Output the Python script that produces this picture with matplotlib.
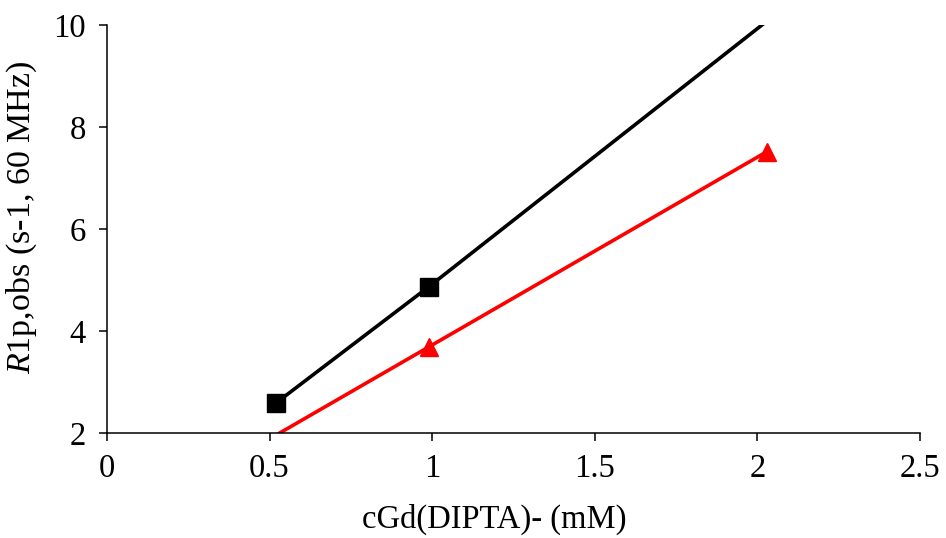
import numpy as np
import matplotlib
matplotlib.use("Agg")
import matplotlib.pyplot as plt

# font setup (Times-like)
plt.rcParams['font.family'] = ['Liberation Serif', 'DejaVu Serif']
plt.rcParams['mathtext.fontset'] = 'custom'
plt.rcParams['mathtext.rm'] = 'Liberation Serif'
plt.rcParams['mathtext.it'] = 'Liberation Serif:italic'

# data
conc = [0.52, 0.99, 2.03]
r1_black = [2.59, 4.87, 10.08]
r1_red = [1.96, 3.69, 7.52]

xticks = [0, 0.5, 1, 1.5, 2, 2.5]
xticklabels = ["0", "0.5", "1", "1.5", "2", "2.5"]
yticks = [2, 4, 6, 8, 10]

fig = plt.figure(figsize=(9.46, 5.38), dpi=100)
ax = fig.add_axes([0.113, 0.195, 0.8595, 0.7585])

ymin, ymax = 2, 10

def draw(x, y, color, marker):
    x = np.array(x)
    y = np.array(y)
    ax.plot(x, y, color=color, linewidth=2.6, zorder=2)
    # markers outside the axis range are not shown
    keep = (y >= ymin) & (y <= ymax)
    ax.plot(x[keep], y[keep], linestyle='none', marker=marker, color=color,
            markersize=13, zorder=3)

draw(conc, r1_black, 'black', 's')
draw(conc, r1_red, '#ff0000', '^')

ax.set_xlim(0, 2.5)
ax.set_ylim(ymin, ymax)
ax.set_xticks(xticks)
ax.set_xticklabels(xticklabels)
ax.set_yticks(yticks)

ax.spines['top'].set_visible(False)
ax.spines['right'].set_visible(False)
ax.spines['left'].set_linewidth(1.1)
ax.spines['bottom'].set_linewidth(1.1)
ax.tick_params(direction='out', length=6, width=1.1, labelsize=23.5, pad=9)

ax.set_xlabel("cGd(DIPTA)- (mM)", fontsize=23.5)
ax.set_ylabel(r"$\it{R}$1p,obs (s-1, 60 MHz)", fontsize=24.5)
ax.xaxis.set_label_coords(0.477, -0.172)
ax.yaxis.set_label_coords(-0.083, 0.528)

fig.savefig("out.png", dpi=100)
